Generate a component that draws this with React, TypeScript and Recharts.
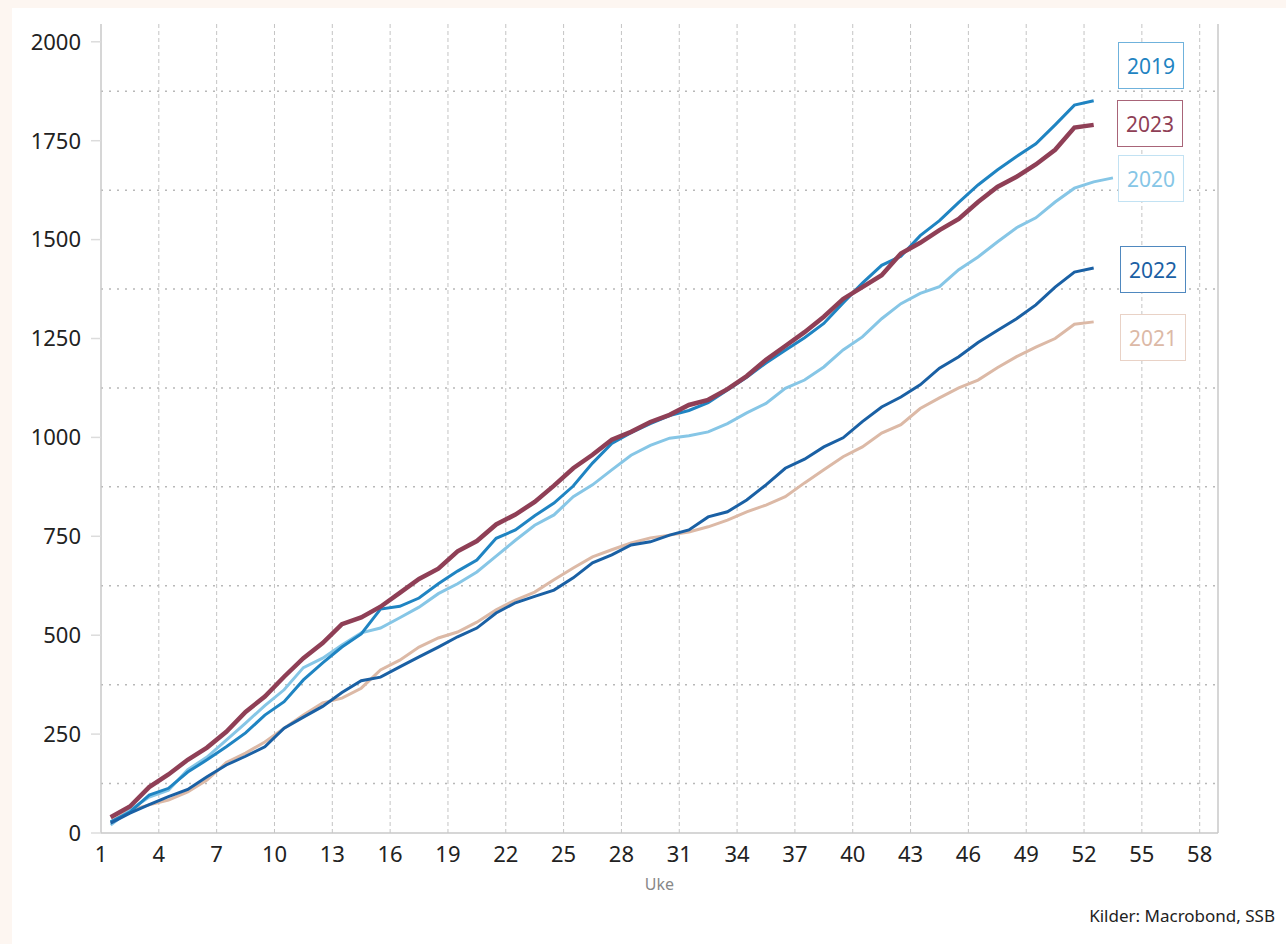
import React from 'react';
import { CartesianGrid, Line, LineChart, XAxis, YAxis } from 'recharts';

// uke 1..53, verdier lest av figuren (kumulativt antall)
const weeks = [
  1, 2, 3, 4, 5, 6, 7, 8, 9, 10, 11, 12, 13, 14, 15, 16, 17, 18, 19, 20, 21, 22, 23, 24, 25, 26,
  27, 28, 29, 30, 31, 32, 33, 34, 35, 36, 37, 38, 39, 40, 41, 42, 43, 44, 45, 46, 47, 48, 49, 50,
  51, 52, 53
];

const s2019 = [
  28, 53, 96, 113, 154, 185, 218, 253, 298, 332, 387, 430, 470, 503, 566, 573, 594, 630, 662, 690,
  745, 766, 802, 834, 877, 935, 985, 1012, 1035, 1055, 1068, 1088, 1120, 1152, 1188, 1220, 1252,
  1288, 1340, 1390, 1435, 1458, 1510, 1548, 1594, 1638, 1676, 1710, 1742, 1790, 1840, 1851
];
const s2020 = [
  20, 58, 91, 108, 160, 192, 235, 278, 322, 362, 418, 442, 475, 506, 518, 544, 571, 605, 630, 660,
  700, 740, 778, 804, 850, 880, 918, 955, 980, 998, 1004, 1014, 1035, 1062, 1086, 1124, 1145, 1178,
  1221, 1254, 1300, 1338, 1364, 1381, 1424, 1456, 1494, 1530, 1555, 1595, 1630, 1646, 1656
];
const s2021 = [
  28, 58, 71, 83, 104, 134, 178, 202, 230, 265, 298, 329, 341, 366, 412, 437, 470, 493, 508, 533,
  564, 589, 609, 640, 670, 698, 716, 733, 746, 753, 761, 774, 791, 812, 829, 850, 885, 918, 951,
  976, 1011, 1032, 1073, 1100, 1125, 1145, 1176, 1204, 1228, 1250, 1286, 1292
];
const s2022 = [
  25, 50, 72, 92, 110, 142, 172, 194, 218, 265, 293, 320, 355, 385, 394, 420, 445, 470, 496, 518,
  556, 582, 598, 614, 645, 683, 703, 728, 736, 753, 766, 799, 812, 842, 880, 922, 945, 976, 999,
  1040, 1077, 1102, 1133, 1175, 1204, 1240, 1270, 1300, 1335, 1380, 1418, 1428
];
const s2023 = [
  40, 67, 116, 148, 185, 216, 256, 306, 345, 395, 442, 480, 528, 545, 572, 607, 642, 668, 712, 738,
  780, 805, 837, 878, 922, 956, 994, 1014, 1039, 1057, 1082, 1095, 1122, 1155, 1196, 1231, 1266,
  1305, 1350, 1380, 1410, 1465, 1492, 1524, 1552, 1595, 1633, 1659, 1690, 1727, 1783, 1790
];

const xTicks = [1, 4, 7, 10, 13, 16, 19, 22, 25, 28, 31, 34, 37, 40, 43, 46, 49, 52, 55, 58];
const yTicks = [0, 250, 500, 750, 1000, 1250, 1500, 1750, 2000];
const yGrid = [125, 375, 625, 875, 1125, 1375, 1625, 1875];

const data = weeks.map((w, i) => ({
  x: w + 0.5,
  y2019: s2019[i],
  y2020: s2020[i],
  y2021: s2021[i],
  y2022: s2022[i],
  y2023: s2023[i]
}));

const series = [
  { key: 'y2021', name: '2021', color: '#dcb9a6', width: 3 },
  { key: 'y2020', name: '2020', color: '#86c6e6', width: 3 },
  { key: 'y2019', name: '2019', color: '#1f84c2', width: 3 },
  { key: 'y2022', name: '2022', color: '#1a60a4', width: 3 },
  { key: 'y2023', name: '2023', color: '#8f3f56', width: 4.5 }
];

const boxes = [
  { year: '2019', color: '#1f84c2', border: '#6fb2dc', left: 1118, top: 42 },
  { year: '2023', color: '#8f3f56', border: '#a86478', left: 1117, top: 100 },
  { year: '2020', color: '#86c6e6', border: '#c2e2f3', left: 1118, top: 155 },
  { year: '2022', color: '#1a60a4', border: '#4f88bf', left: 1120, top: 246 },
  { year: '2021', color: '#dcb9a6', border: '#e9d2c6', left: 1120, top: 314 }
];

const font = '"Noto Sans", "Open Sans", sans-serif';
const tickStyle = { fontSize: 22, fill: '#222', fontFamily: font };

export default function App() {
  return (
    <div style={{ position: 'absolute', top: 0, left: 0, width: 1286, height: 944, background: '#fdf6f1' }}>
      <div style={{ position: 'absolute', left: 12, top: 8, right: 0, bottom: 0, background: '#fff' }} />
      <div style={{ position: 'absolute', top: 0, left: 0 }}>
        <LineChart width={1286} height={944} data={data} margin={{ top: 24, right: 0, bottom: 71, left: 0 }}>
          <CartesianGrid
            yAxisId="left"
            horizontal={false}
            verticalValues={xTicks.slice(1)}
            stroke="#c4c4c4"
            strokeDasharray="4 3"
          />
          <CartesianGrid
            yAxisId="left"
            vertical={false}
            horizontalValues={yGrid}
            stroke="#b8b8b8"
            strokeDasharray="2 6"
            strokeWidth={1.5}
          />
          <XAxis
            dataKey="x"
            type="number"
            domain={[1, 58.95]}
            allowDataOverflow
            ticks={xTicks}
            interval={0}
            tickLine={false}
            tickSize={0}
            tickMargin={13}
            height={40}
            stroke="#c8c8c8"
            strokeWidth={1.5}
            tick={tickStyle}
            label={{ value: 'Uke', position: 'bottom', offset: 6, fill: '#888', fontSize: 16, fontFamily: font }}
          />
          <YAxis
            yAxisId="left"
            domain={[0, 2045]}
            ticks={yTicks}
            interval={0}
            width={101}
            tickSize={10}
            tickMargin={10}
            tickLine={{ stroke: '#dcdcdc', strokeWidth: 1.5 }}
            stroke="#c8c8c8"
            strokeWidth={1.5}
            tick={tickStyle}
          />
          <YAxis
            yAxisId="right"
            orientation="right"
            domain={[0, 2045]}
            ticks={yTicks}
            interval={0}
            width={68}
            tickLine={false}
            tickSize={0}
            tickMargin={12}
            stroke="#c8c8c8"
            strokeWidth={1.5}
            tick={tickStyle}
          />
          {series.map((s) => (
            <Line
              key={s.key}
              yAxisId="left"
              type="linear"
              dataKey={s.key}
              name={s.name}
              stroke={s.color}
              strokeWidth={s.width}
              dot={false}
              activeDot={false}
              isAnimationActive={false}
            />
          ))}
        </LineChart>
      </div>
      {boxes.map((b) => (
        <div
          key={b.year}
          style={{
            position: 'absolute',
            left: b.left,
            top: b.top,
            width: 66,
            height: 47,
            boxSizing: 'border-box',
            border: `1px solid ${b.border}`,
            background: '#fff',
            color: b.color,
            fontFamily: font,
            fontSize: 21,
            display: 'flex',
            alignItems: 'center',
            justifyContent: 'center'
          }}
        >
          {b.year}
        </div>
      ))}
      <div
        style={{
          position: 'absolute',
          right: 11,
          top: 904,
          fontFamily: font,
          fontSize: 17,
          color: '#222'
        }}
      >
        Kilder: Macrobond, SSB
      </div>
    </div>
  );
}
